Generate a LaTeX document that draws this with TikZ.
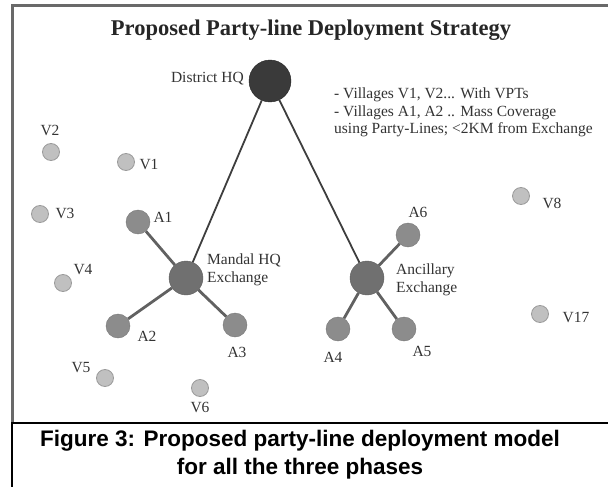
\documentclass[tikz,border=0pt]{standalone}
\usepackage{fontspec}
\setmainfont{Liberation Serif}
\newfontfamily\capfont{Liberation Sans}
\usepackage{tikz}
\usetikzlibrary{positioning, calc}
\definecolor{hqdark}{RGB}{58,58,58}
\definecolor{exgray}{RGB}{112,112,112}
\definecolor{agray}{RGB}{140,140,140}
\definecolor{vgray}{RGB}{192,192,192}
\definecolor{vedge}{RGB}{155,155,155}
\definecolor{framegray}{RGB}{105,105,105}
\definecolor{linkgray}{RGB}{62,62,62}

\begin{document}
\begin{tikzpicture}[x=1pt, y=-1pt,
  hq/.style={circle, fill=hqdark, draw=black!85, minimum size=42pt, inner sep=0pt},
  exch/.style={circle, fill=exgray, draw=exgray!85!black, minimum size=34pt, inner sep=0pt},
  avil/.style={circle, fill=agray, draw=agray!85!black, minimum size=24pt, inner sep=0pt},
  vvil/.style={circle, fill=vgray, draw=vedge, line width=0.8pt, minimum size=17pt, inner sep=0pt},
  lbl/.style={font=\fontsize{15.5}{17.5}\selectfont, text=black!80, inner sep=0pt},
  trunk/.style={draw=linkgray, line width=1.8pt},
  spoke/.style={draw=black!62, line width=2.8pt}
]
  \useasboundingbox (0,0) rectangle (608,487);

  % Frame of the slide and caption box
  \draw[framegray, line width=3pt] (12.5,423) -- (12.5,6) -- (612,6);
  \draw[black, line width=1.6pt] (11,423) -- (608,423);
  \draw[black, line width=2pt] (12,423) -- (12,487);

  % Title
  \node[font=\fontsize{22.5}{25}\selectfont\bfseries, text=black!85] (title) at (311,30)
    {Proposed Party-line Deployment Strategy};

  % Exchanges
  \node[hq] (dhq) at (270,81) {};
  \node[exch] (mandal) at (186,278) {};
  \node[exch] (ancil) at (367,278) {};

  % Villages on party-lines
  \node[avil] (a1) at (138,222) {};
  \node[avil] (a2) at (118,326) {};
  \node[avil] (a3) at (235,325) {};
  \node[avil] (a4) at (338,329) {};
  \node[avil] (a5) at (404,329) {};
  \node[avil] (a6) at (408,235) {};

  % Villages with VPTs
  \node[vvil] (v1) at (126,162) {};
  \node[vvil] (v2) at (51,152) {};
  \node[vvil] (v3) at (40,214) {};
  \node[vvil] (v4) at (63,283) {};
  \node[vvil] (v5) at (105,378) {};
  \node[vvil] (v6) at (200,388) {};
  \node[vvil] (v8) at (521,196) {};
  \node[vvil] (v17) at (540,314) {};

  % Links
  \draw[trunk] (dhq) -- (mandal);
  \draw[trunk] (dhq) -- (ancil);
  \foreach \a in {a1,a2,a3} \draw[spoke] (mandal) -- (\a);
  \foreach \a in {a4,a5,a6} \draw[spoke] (ancil) -- (\a);

  % Labels
  \node[lbl, anchor=east] (dhqt) at (244,79) {District HQ};
  \node[lbl, anchor=west, align=left] (mandalt) at (207,270) {Mandal HQ\\Exchange};
  \node[lbl, anchor=west, align=left] (ancilt) at (396,280) {Ancillary\\Exchange};
  \node[lbl] (a1t) at (163,217) {A1};
  \node[lbl] (a2t) at (147,336) {A2};
  \node[lbl] (a3t) at (237,352) {A3};
  \node[lbl] (a4t) at (333,357) {A4};
  \node[lbl] (a5t) at (422,351) {A5};
  \node[lbl] (a6t) at (418,212) {A6};
  \node[lbl] (v1t) at (149,165) {V1};
  \node[lbl] (v2t) at (50,130) {V2};
  \node[lbl] (v3t) at (65,213) {V3};
  \node[lbl] (v4t) at (83,270) {V4};
  \node[lbl] (v5t) at (81,368) {V5};
  \node[lbl] (v6t) at (200,407) {V6};
  \node[lbl] (v8t) at (552,203) {V8};
  \node[lbl] (v17t) at (576,317) {V17};

  % Legend
  \node[lbl, anchor=north west, align=left] (legend) at (334,88)
    {- Villages V1, V2... With VPTs\\- Villages A1, A2 .. Mass Coverage\\using Party-Lines; <2KM from Exchange};

  % Caption
  \node[font=\capfont\fontsize{22.5}{28}\selectfont\bfseries, align=center] (caption) at (300,455)
    {Figure 3: Proposed party-line deployment model\\for all the three phases};
\end{tikzpicture}
\end{document}
